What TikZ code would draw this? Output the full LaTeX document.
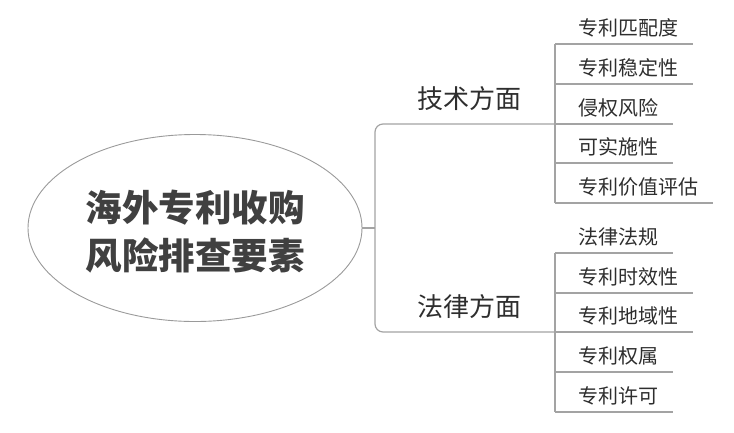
\documentclass[tikz,border=0pt]{standalone}
\usepackage{fontspec}
\setmainfont{Noto Sans CJK SC}
\usetikzlibrary{shapes.geometric}
\definecolor{ln}{HTML}{A3A3A3}
\definecolor{el}{HTML}{9A9A9A}
\definecolor{tx}{HTML}{2E2E2E}
\definecolor{tt}{HTML}{404040}
\begin{document}
\begin{tikzpicture}[x=1pt,y=-1pt,
  conn/.style={draw=ln, line width=1.2pt},
  leaf/.style={anchor=west, inner sep=0pt, text=tx, font=\fontsize{20}{24}\selectfont},
  topic/.style={anchor=west, inner sep=0pt, text=tx, font=\fontsize{26}{30}\selectfont},
  rootnode/.style={ellipse, draw=el, line width=0.9pt, minimum width=334pt, minimum height=187pt, inner sep=0pt}]
\useasboundingbox (0,0) rectangle (734,432);
% root
\node[rootnode] (root) at (195,228) {};
\node[align=center, text=tt, font=\fontsize{36.5}{48}\selectfont\bfseries] (title) at (195,232) {海外专利收购\\风险排查要素};
% topics
\node[topic] (t) at (417,98.5) {技术方面};
\node[topic] (l) at (417,306.5) {法律方面};
% leaves (technology)
\node[leaf] (t1) at (578,27.5) {专利匹配度};
\node[leaf] (t2) at (578,67.5) {专利稳定性};
\node[leaf] (t3) at (578,107.5) {侵权风险};
\node[leaf] (t4) at (578,146.5) {可实施性};
\node[leaf] (t5) at (578,186.5) {专利价值评估};
% leaves (law)
\node[leaf] (l1) at (578,236.5) {法律法规};
\node[leaf] (l2) at (578,276.5) {专利时效性};
\node[leaf] (l3) at (578,315.5) {专利地域性};
\node[leaf] (l4) at (578,355.5) {专利权属};
\node[leaf] (l5) at (578,395.5) {专利许可};
% connectors
\coordinate (fork) at (375,228);
\coordinate (tj) at (555,124);
\coordinate (lj) at (555,332);
\draw[conn] (root.east) -- (fork);
\draw[conn, rounded corners=8pt] (tj) -- (fork |- tj) -- (fork |- lj) -- (lj);
% technology branch
\draw[conn] (555,44) -- (555,203);
\draw[conn] (555,44) -- (693,44);
\draw[conn] (555,84) -- (693,84);
\draw[conn] (tj) -- (673,124);
\draw[conn] (555,163) -- (673,163);
\draw[conn] (555,203) -- (713,203);
% law branch
\draw[conn] (555,253) -- (555,412);
\draw[conn] (555,253) -- (673,253);
\draw[conn] (555,293) -- (693,293);
\draw[conn] (lj) -- (693,332);
\draw[conn] (555,372) -- (673,372);
\draw[conn] (555,412) -- (673,412);
\end{tikzpicture}
\end{document}
